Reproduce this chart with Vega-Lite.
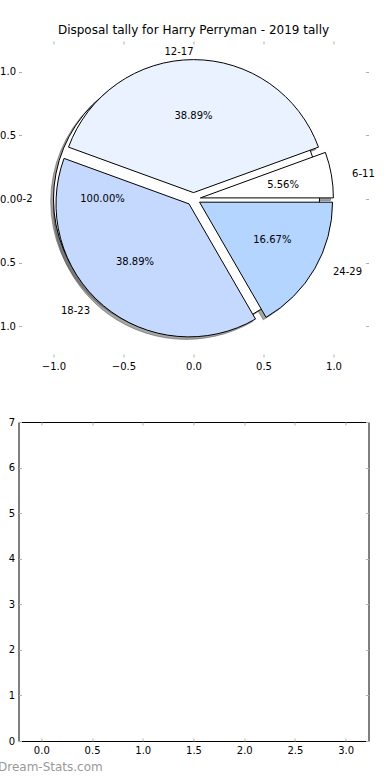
{
  "$schema": "https://vega.github.io/schema/vega-lite/v6.json",
  "padding": {"left": -9.5, "top": 23, "right": 0, "bottom": 0},
  "background": "#ffffff",
  "config": {
    "font": "DejaVu Sans",
    "view": {"stroke": null},
    "axis": {
      "domain": false,
      "grid": false,
      "ticks": true,
      "tickColor": "#b0b0b0",
      "tickSize": 3,
      "tickWidth": 1,
      "offset": -3,
      "labelFont": "DejaVu Sans",
      "labelFontSize": 10,
      "labelColor": "#000000",
      "labelFlush": false,
      "labelOverlap": false,
      "labelBound": false,
      "title": null
    },
    "text": {"font": "DejaVu Sans", "fontSize": 10, "color": "#000000"}
  },
  "datasets": {
    "pie": [
      {"age": "0-2", "from": 0, "to": 18, "ex": -0.05, "ey": 0, "lx": -1.15, "ly": 0, "px": -0.65, "py": 0, "pct": "100.00%"},
      {"age": "6-11", "from": 0, "to": 1, "ex": 0.0492, "ey": 0.0087, "lx": 1.133, "ly": 0.2, "px": 0.64, "py": 0.113, "pct": "5.56%"},
      {"age": "12-17", "from": 1, "to": 8, "ex": 0, "ey": 0.05, "lx": 0, "ly": 1.15, "px": 0, "py": 0.65, "pct": "38.89%"},
      {"age": "18-23", "from": 8, "to": 15, "ex": -0.0321, "ey": -0.0383, "lx": -0.739, "ly": -0.881, "px": -0.418, "py": -0.498, "pct": "38.89%"},
      {"age": "24-29", "from": 15, "to": 18, "ex": 0.0433, "ey": -0.025, "lx": 0.996, "ly": -0.575, "px": 0.563, "py": -0.325, "pct": "16.67%"}
    ]
  },
  "vconcat": [
    {
      "title": {"text": "Disposal tally for Harry Perryman - 2019 tally", "font": "DejaVu Sans", "fontSize": 12, "fontWeight": "normal", "color": "#000000", "offset": 4},
      "width": 350,
      "height": 316,
      "view": {"stroke": null},
      "data": {"name": "pie"},
      "layer": [
        {
          "mark": {"type": "arc", "radius": 133, "fill": "#4d4d4d", "fillOpacity": 0.5, "stroke": "#4d4d4d", "strokeOpacity": 0.5, "xOffset": -2.8, "yOffset": 2.5},
          "encoding": {
            "x": {"field": "ex", "type": "quantitative", "scale": {"domain": [-1.25, 1.25], "nice": false, "zero": false},
                  "axis": {"orient": "bottom", "values": [-1, -0.5, 0, 0.5, 1], "format": ".1f", "labelPadding": 4}},
            "y": {"field": "ey", "type": "quantitative", "scale": {"domain": [-1.24, 1.24], "nice": false, "zero": false},
                  "axis": {"orient": "left", "values": [-1, -0.5, 0, 0.5, 1], "format": ".1f", "labelPadding": 3}},
            "theta": {"field": "from", "type": "quantitative", "scale": {"domain": [0, 18], "range": [1.5708, -4.7124]}},
            "theta2": {"field": "to"}
          }
        },
        {
          "mark": {"type": "arc", "radius": 133, "stroke": "#000000", "strokeWidth": 1},
          "encoding": {
            "x": {"field": "ex", "type": "quantitative", "scale": {"domain": [-1.25, 1.25], "nice": false, "zero": false},
                  "axis": {"orient": "top", "values": [-1, -0.5, 0, 0.5, 1], "labels": false}},
            "y": {"field": "ey", "type": "quantitative", "scale": {"domain": [-1.24, 1.24], "nice": false, "zero": false},
                  "axis": {"orient": "right", "values": [-1, -0.5, 0, 0.5, 1], "labels": false}},
            "theta": {"field": "from", "type": "quantitative", "scale": {"domain": [0, 18], "range": [1.5708, -4.7124]}},
            "theta2": {"field": "to"},
            "color": {"field": "age", "type": "nominal", "legend": null,
                      "scale": {"domain": ["0-2", "6-11", "12-17", "18-23", "24-29"], "range": ["#ffffff", "#ffffff", "#eaf2ff", "#c5d9ff", "#b3d5ff"]}}
          }
        },
        {
          "transform": [{"filter": "datum.lx > 0"}],
          "mark": {"type": "text", "align": "left", "baseline": "middle"},
          "encoding": {
            "x": {"field": "lx", "type": "quantitative", "scale": {"domain": [-1.25, 1.25], "nice": false, "zero": false}, "axis": null},
            "y": {"field": "ly", "type": "quantitative", "scale": {"domain": [-1.24, 1.24], "nice": false, "zero": false}, "axis": null},
            "text": {"field": "age"}
          }
        },
        {
          "transform": [{"filter": "datum.lx <= 0"}],
          "mark": {"type": "text", "align": "right", "baseline": "middle"},
          "encoding": {
            "x": {"field": "lx", "type": "quantitative", "scale": {"domain": [-1.25, 1.25], "nice": false, "zero": false}, "axis": null},
            "y": {"field": "ly", "type": "quantitative", "scale": {"domain": [-1.24, 1.24], "nice": false, "zero": false}, "axis": null},
            "text": {"field": "age"}
          }
        },
        {
          "mark": {"type": "text", "align": "center", "baseline": "middle"},
          "encoding": {
            "x": {"field": "px", "type": "quantitative", "scale": {"domain": [-1.25, 1.25], "nice": false, "zero": false}, "axis": null},
            "y": {"field": "py", "type": "quantitative", "scale": {"domain": [-1.24, 1.24], "nice": false, "zero": false}, "axis": null},
            "text": {"field": "pct"}
          }
        }
      ],
      "resolve": {"axis": {"x": "independent", "y": "independent"}}
    },
    {
      "width": 350,
      "height": 319,
      "view": {"stroke": "#000000", "strokeWidth": 1},
      "data": {"values": []},
      "layer": [
        {
          "mark": {"type": "point", "opacity": 0},
          "encoding": {
            "x": {"field": "x", "type": "quantitative", "scale": {"domain": [-0.225, 3.225], "nice": false, "zero": false},
                  "axis": {"orient": "bottom", "values": [0, 0.5, 1, 1.5, 2, 2.5, 3], "format": ".1f", "labelPadding": 4,
                           "title": "Dream-Stats.com", "titleX": -21, "titleY": 28, "titleAlign": "left", "titleAnchor": "start", "titleBaseline": "middle",
                           "titleFont": "DejaVu Sans", "titleFontSize": 12, "titleFontWeight": "normal", "titleColor": "#999999"}},
            "y": {"field": "y", "type": "quantitative", "scale": {"domain": [0, 7], "nice": false, "zero": false},
                  "axis": {"orient": "left", "values": [0, 1, 2, 3, 4, 5, 6, 7], "format": "d", "labelPadding": 4}}
          }
        },
        {
          "mark": {"type": "point", "opacity": 0},
          "encoding": {
            "x": {"field": "x", "type": "quantitative", "scale": {"domain": [-0.225, 3.225], "nice": false, "zero": false},
                  "axis": {"orient": "top", "values": [0, 0.5, 1, 1.5, 2, 2.5, 3], "labels": false}},
            "y": {"field": "y", "type": "quantitative", "scale": {"domain": [0, 7], "nice": false, "zero": false},
                  "axis": {"orient": "right", "values": [0, 1, 2, 3, 4, 5, 6, 7], "labels": false}}
          }
        }
      ],
      "resolve": {"axis": {"x": "independent", "y": "independent"}}
    }
  ],
  "spacing": 65,
  "bounds": "flush"
}
